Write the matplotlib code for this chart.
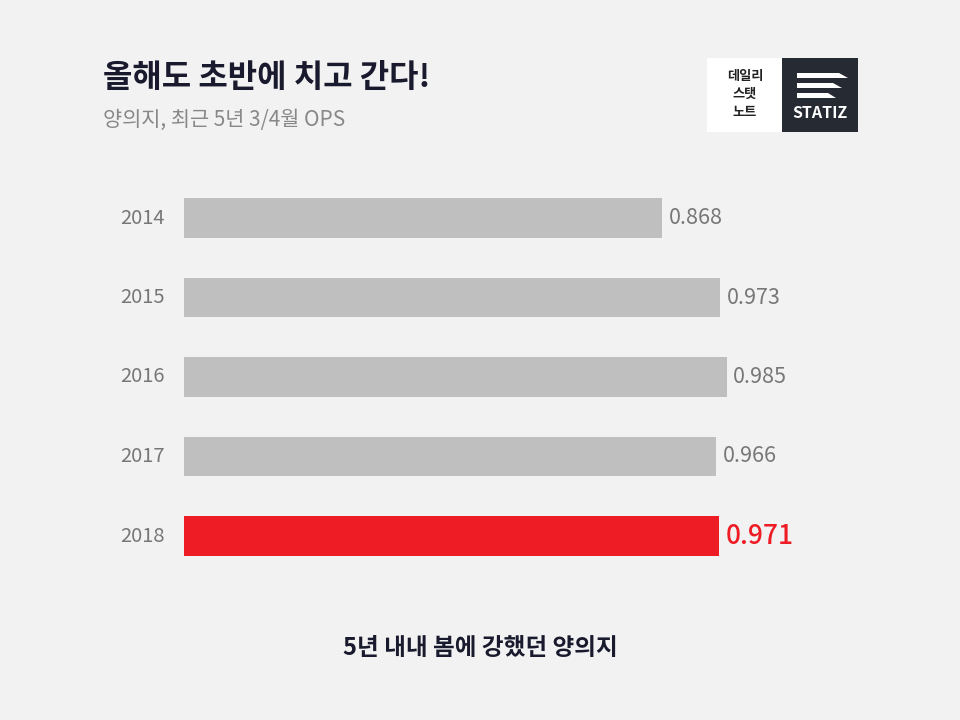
import matplotlib
matplotlib.use("Agg")
import matplotlib.pyplot as plt
from matplotlib.patches import Rectangle, Polygon

years = ["2014", "2015", "2016", "2017", "2018"]
ops = [0.868, 0.973, 0.985, 0.966, 0.971]
labels = ["0.868", "0.973", "0.985", "0.966", "0.971"]

F = ["Noto Sans CJK KR", "Noto Sans CJK JP", "Noto Sans CJK SC", "Noto Sans CJK TC", "DejaVu Sans"]
plt.rcParams["font.family"] = F
W, H = 960, 720
fig = plt.figure(figsize=(9.6, 7.2), dpi=100, facecolor="#f2f2f2")

def fx(x): return x / W
def fy(y): return 1 - y / H

ppu = 551
ax_w = 700
top = 178.25
ax_h = 5 * 79.5
ax = fig.add_axes([fx(184), fy(top + ax_h), ax_w / W, ax_h / H])
ax.set_facecolor("none")
ax.set_xlim(0, ax_w / ppu)
ax.set_ylim(4.5, -0.5)
ax.axis("off")
for i, (y, v, l) in enumerate(zip(years, ops, labels)):
    hl = (i == 4)
    ax.barh(i, v, height=0.5, color="#ee1c25" if hl else "#bfbfbf")
    ax.text(v + 0.012, i, l, va="center", ha="left", fontfamily=F,
            fontsize=19 if hl else 15.5, color="#ee1c25" if hl else "#777777",
            fontweight="medium" if hl else "normal")
    ax.text(-0.035, i, y, va="center", ha="right", fontfamily=F, fontsize=14.5, color="#777777")

fig.text(fx(103), fy(78), "올해도 초반에 치고 간다!", fontfamily=F, fontsize=23, fontweight="bold",
         color="#1a1a2e", va="center", ha="left")
fig.text(fx(103), fy(120), "양의지, 최근 5년 3/4월 OPS", fontfamily=F, fontsize=15,
         color="#888888", va="center", ha="left")
fig.text(fx(480), fy(648), "5년 내내 봄에 강했던 양의지", fontfamily=F, fontsize=17, fontweight="bold",
         color="#1a1a2e", va="center", ha="center")

fig.patches.append(Rectangle((fx(707), fy(132)), 75 / W, 74 / H, transform=fig.transFigure,
                             facecolor="white", edgecolor="none"))
fig.patches.append(Rectangle((fx(782), fy(132)), 76 / W, 74 / H, transform=fig.transFigure,
                             facecolor="#262a33", edgecolor="none"))
for ty, t in [(76, "데일리"), (94, "스탯"), (112, "노트")]:
    fig.text(fx(745), fy(ty), t, fontfamily=F, fontsize=9.5, fontweight="bold",
             color="#222222", ha="center", va="center")
stripes = [(73, 797, 839, 848), (83, 797, 833, 842), (93, 797, 828, 836)]
for y0, x0, x1, x2 in stripes:
    pts = [(x0, y0), (x1, y0), (x2, y0 + 5), (x0, y0 + 5)]
    fig.patches.append(Polygon([(fx(a), fy(b)) for a, b in pts], closed=True,
                               transform=fig.transFigure, facecolor="white", edgecolor="none"))
fig.text(fx(820), fy(113), "STATIZ", fontfamily=F, fontsize=11.5, fontweight="bold",
         fontstyle="italic", color="white", ha="center", va="center")

fig.savefig("out.png", dpi=100, facecolor=fig.get_facecolor())
